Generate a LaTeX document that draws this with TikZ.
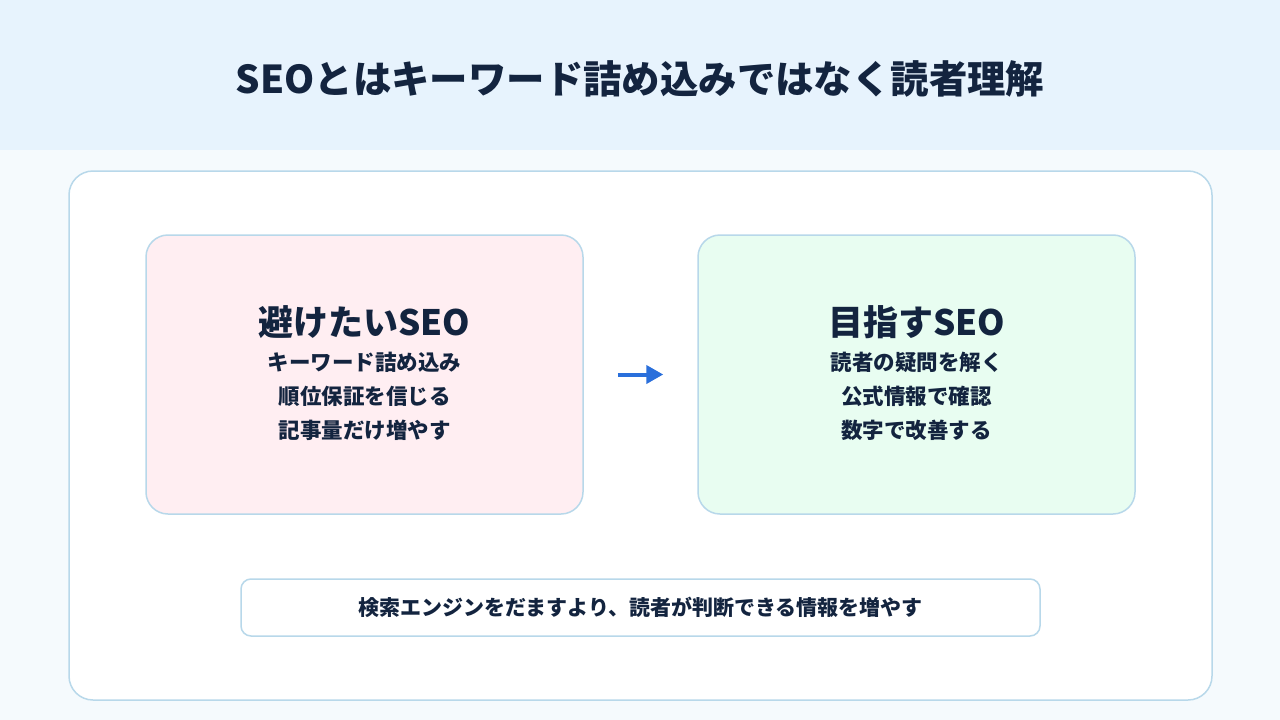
\documentclass[tikz,border=0pt]{standalone}
\usepackage{fontspec}
\setmainfont{Noto Sans CJK JP}
\usepackage{tikz}
\usetikzlibrary{positioning, arrows.meta}
\definecolor{seoNavy}{HTML}{13243F}
\definecolor{seoBand}{HTML}{E7F3FD}
\definecolor{seoPage}{HTML}{F5FAFD}
\definecolor{seoLine}{HTML}{B8D8EA}
\definecolor{seoPink}{HTML}{FFEEF2}
\definecolor{seoMint}{HTML}{E8FDF1}
\definecolor{seoBlue}{HTML}{2A6FDB}

\begin{document}
\begin{tikzpicture}[x=1pt, y=-1pt, font=\bfseries, text=seoNavy,
  card/.style={draw=seoLine, line width=1.5pt, rounded corners=22pt,
    minimum width=437pt, minimum height=279pt},
  cardhead/.style={font=\fontsize{35}{40}\selectfont\bfseries},
  cardbody/.style={font=\fontsize{21.5}{34}\selectfont\bfseries, align=center}]
  % background
  \fill[seoPage] (0,0) rectangle (1280,720);
  \fill[seoBand] (0,0) rectangle (1280,150);
  \useasboundingbox (0,0) rectangle (1280,720);

  \node[font=\fontsize{38.4}{44}\selectfont\bfseries] (title) at (640,79)
    {SEOとはキーワード詰め込みではなく読者理解};

  \draw[seoLine, fill=white, line width=1.5pt, rounded corners=24pt]
    (69,171) rectangle (1212,700);

  % two cards
  \node[card, fill=seoPink] (bad) at (364.5,374.5) {};
  \node[card, fill=seoMint] (good) at (916.5,374.5) {};

  \node[cardhead] (badhead) at (364.5,322) {避けたいSEO};
  \node[cardbody] (badbody) at (364.5,396)
    {キーワード詰め込み\\順位保証を信じる\\記事量だけ増やす};
  \node[cardhead] (goodhead) at (916.5,322) {目指すSEO};
  \node[cardbody] (goodbody) at (916.5,396)
    {読者の疑問を解く\\公式情報で確認\\数字で改善する};

  \draw[-{Triangle[length=17pt, width=18pt]}, seoBlue, line width=4pt,
    shorten <=34pt, shorten >=34pt] (bad.east) -- (good.west);

  % bottom note
  \node[draw=seoLine, fill=white, line width=1.5pt, rounded corners=10pt,
    minimum width=799pt, minimum height=57pt,
    font=\fontsize{21}{24}\selectfont\bfseries] (note) at (640.5,607.5)
    {検索エンジンをだますより、読者が判断できる情報を増やす};
\end{tikzpicture}
\end{document}
